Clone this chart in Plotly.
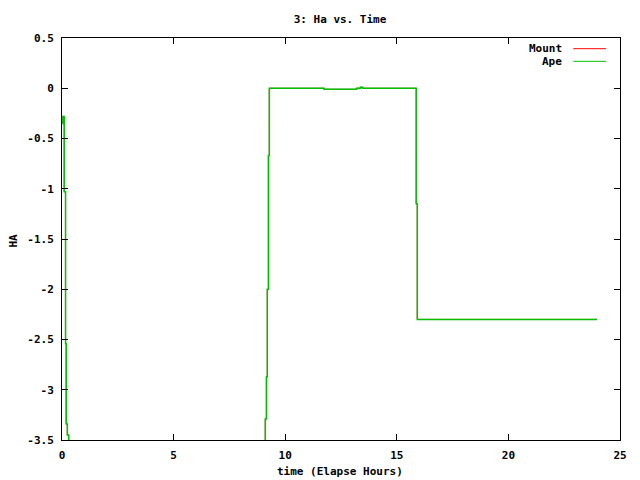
import plotly.graph_objects as go

# Elapsed hours and HA values (step data)
ape_x = [0.0, 0.04, 0.10, 0.16, 0.19, 0.24, 0.30, 9.11, 9.16, 9.20, 9.25, 9.29,
         11.74, 13.20, 13.37, 13.47, 15.87, 15.92, 23.97]
ape_y = [-0.35, -0.28, -1.03, -2.54, -3.34, -3.45, -4.50, -3.29, -2.87, -2.00, -0.67, 0.00,
         -0.01, 0.00, 0.01, 0.00, -1.15, -2.30, -2.30]
mount_x = [0.0, 0.04, 0.10, 0.155, 0.185, 0.235, 0.30, 9.105, 9.155, 9.195, 9.245, 9.285,
           11.74, 13.20, 13.37, 13.47, 15.87, 15.915, 23.97]
mount_y = list(ape_y)

x_ticks = [0, 5, 10, 15, 20, 25]
y_ticks = [0.5, 0, -0.5, -1, -1.5, -2, -2.5, -3, -3.5]
y_tick_text = ["0.5", "0", "-0.5", "-1", "-1.5", "-2", "-2.5", "-3", "-3.5"]

FONT = "DejaVu Sans Mono"
TXT = dict(family=FONT, size=11, color="black", weight="bold")

fig = go.Figure()
fig.add_trace(go.Scatter(x=mount_x, y=mount_y, mode="lines", line=dict(color="#ff0000", width=0.8, shape="hv"),
                         name="Mount", showlegend=False, hoverinfo="skip"))
fig.add_trace(go.Scatter(x=ape_x, y=ape_y, mode="lines", line=dict(color="#00c000", width=1.5, shape="hv"),
                         name="Ape", showlegend=False, hoverinfo="skip"))

axis_common = dict(showline=True, mirror="ticks", linecolor="black", linewidth=1, ticks="inside",
                   ticklen=6, tickcolor="black", showgrid=False, zeroline=False, automargin=False,
                   ticklabelstandoff=5, tickfont=TXT)
fig.update_layout(
    width=640, height=480, plot_bgcolor="white", paper_bgcolor="white",
    margin=dict(l=62, r=20, t=38, b=40, autoexpand=False),
    title=dict(text="3: Ha vs. Time", x=340 / 640, xanchor="center", y=1 - 19 / 480, yanchor="middle",
               font=TXT),
    xaxis=dict(range=[0, 25], tickvals=x_ticks, **axis_common),
    yaxis=dict(range=[-3.5, 0.5], tickvals=y_ticks, ticktext=y_tick_text, **axis_common),
)

# axis titles
fig.add_annotation(x=0.498, y=-0.0796, xref="paper", yref="paper", text="time (Elapse Hours)",
                   showarrow=False, xanchor="center", yanchor="middle", font=TXT)
fig.add_annotation(x=-0.0860, y=0.496, xref="paper", yref="paper", text="HA", textangle=-90,
                   showarrow=False, xanchor="center", yanchor="middle", font=TXT)

# custom gnuplot-style legend (text on left, sample on right)
legend_items = [("Mount", "#ff0000", 0.9734), ("Ape", "#00c000", 0.942)]
for label, color, yp in legend_items:
    fig.add_annotation(x=0.9005, y=yp, xref="paper", yref="paper", text=label, showarrow=False,
                       xanchor="right", yanchor="middle", font=TXT)
    fig.add_shape(type="line", xref="paper", yref="paper", x0=0.9163, x1=0.975, y0=yp, y1=yp,
                  line=dict(color=color, width=1))

fig.write_html("out.html", config={"displayModeBar": False},
               post_script="document.body.style.margin='0px';")
